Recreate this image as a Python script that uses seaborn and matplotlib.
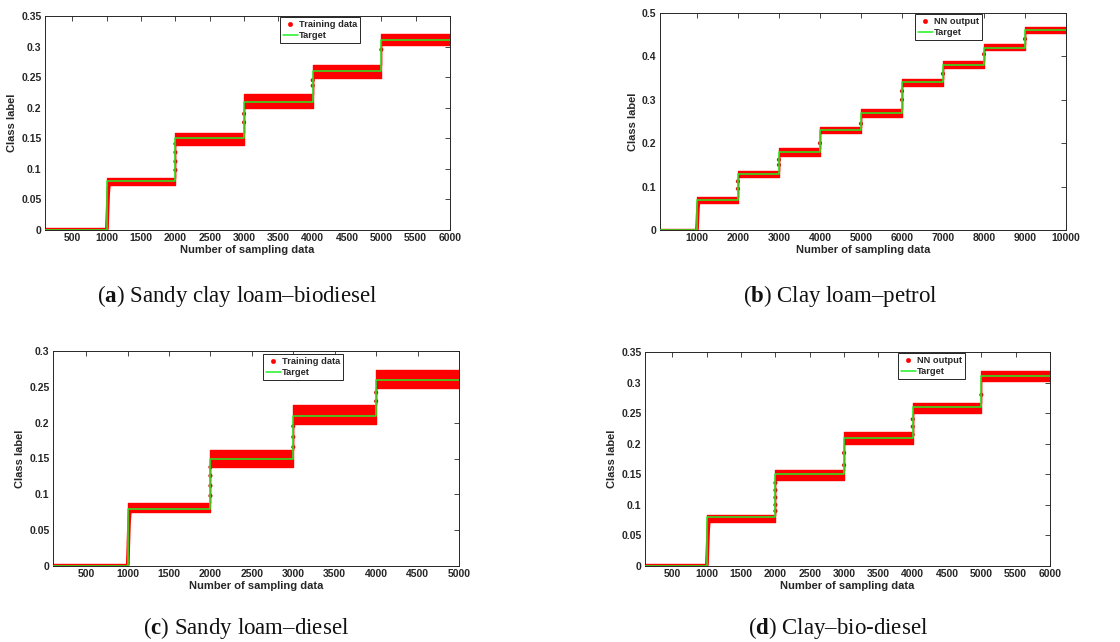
import matplotlib
matplotlib.use("Agg")
import numpy as np
import pandas as pd
import matplotlib.pyplot as plt
import seaborn as sns

sns.set_theme(style="white")
plt.rcParams['font.family'] = ['Liberation Sans', 'DejaVu Sans']
plt.rcParams['mathtext.fontset'] = 'custom'
plt.rcParams['mathtext.rm'] = 'Liberation Serif'
plt.rcParams['mathtext.bf'] = 'Liberation Serif:bold'

# ---------------- data ----------------
# (a) Sandy clay loam - biodiesel
a_edges = [100, 1000, 2000, 3000, 4000, 5000, 6000]
a_target = [0.0, 0.08, 0.15, 0.21, 0.26, 0.31]
a_low = [0.0005, 0.073, 0.139, 0.199, 0.249, 0.302]
a_high = [0.003, 0.085, 0.159, 0.223, 0.270, 0.321]
a_rise_x = [1002, 1008, 1014, 1020, 1026, 1032]
a_rise_y = [0.002, 0.020, 0.040, 0.058, 0.068, 0.074]
a_ramp_x = [2000, 2000, 2000, 2000, 3000, 3000, 4000, 4000, 5000]
a_ramp_y = [0.098, 0.112, 0.127, 0.141, 0.176, 0.190, 0.236, 0.245, 0.295]

# (b) Clay loam - petrol
b_edges = [100, 1000, 2000, 3000, 4000, 5000, 6000, 7000, 8000, 9000, 10000]
b_target = [0.0, 0.07, 0.13, 0.18, 0.23, 0.27, 0.34, 0.38, 0.42, 0.46]
b_low = [0.0005, 0.063, 0.121, 0.170, 0.223, 0.261, 0.332, 0.374, 0.415, 0.455]
b_high = [0.003, 0.076, 0.137, 0.188, 0.238, 0.279, 0.349, 0.389, 0.428, 0.468]
b_rise_x = [1002, 1010, 1018, 1026, 1034, 1042]
b_rise_y = [0.002, 0.018, 0.036, 0.052, 0.060, 0.064]
b_ramp_x = [2000, 2000, 3000, 3000, 4000, 5000, 6000, 6000, 7000, 8000, 9000]
b_ramp_y = [0.095, 0.112, 0.150, 0.162, 0.200, 0.245, 0.300, 0.320, 0.360, 0.405, 0.440]

# (c) Sandy loam - diesel
c_edges = [100, 1000, 2000, 3000, 4000, 5000]
c_target = [0.0, 0.08, 0.15, 0.21, 0.26]
c_low = [0.0005, 0.075, 0.138, 0.198, 0.249]
c_high = [0.003, 0.088, 0.162, 0.225, 0.274]
c_rise_x = [1002, 1007, 1012, 1017, 1022, 1027]
c_rise_y = [0.002, 0.020, 0.040, 0.058, 0.068, 0.075]
c_ramp_x = [2000, 2000, 2000, 2000, 3000, 3000, 3000, 4000, 4000]
c_ramp_y = [0.098, 0.112, 0.126, 0.138, 0.166, 0.180, 0.195, 0.230, 0.242]

# (d) Clay - bio-diesel
d_edges = [100, 1000, 2000, 3000, 4000, 5000, 6000]
d_target = [0.0, 0.08, 0.15, 0.21, 0.26, 0.31]
d_low = [0.0005, 0.072, 0.140, 0.200, 0.250, 0.302]
d_high = [0.003, 0.084, 0.157, 0.219, 0.267, 0.319]
d_rise_x = [1002, 1008, 1014, 1020, 1026, 1032]
d_rise_y = [0.002, 0.020, 0.040, 0.058, 0.068, 0.073]
d_ramp_x = [2000, 2000, 2000, 2000, 2000, 3000, 3000, 4000, 4000, 4000, 5000]
d_ramp_y = [0.090, 0.100, 0.112, 0.124, 0.136, 0.165, 0.185, 0.215, 0.228, 0.240, 0.280]

panels = [
    dict(edges=a_edges, target=a_target, low=a_low, high=a_high, rx=a_ramp_x, ry=a_ramp_y,
         sx=a_rise_x, sy=a_rise_y,
         xlim=(100, 6000), xticks=np.arange(500, 6001, 500), ylim=(0, 0.35),
         yticks=[0, 0.05, 0.1, 0.15, 0.2, 0.25, 0.3, 0.35], label="Training data",
         cap_bold="a", caption="Sandy clay loam\u2013biodiesel"),
    dict(edges=b_edges, target=b_target, low=b_low, high=b_high, rx=b_ramp_x, ry=b_ramp_y,
         sx=b_rise_x, sy=b_rise_y,
         xlim=(100, 10000), xticks=np.arange(1000, 10001, 1000), ylim=(0, 0.5),
         yticks=[0, 0.1, 0.2, 0.3, 0.4, 0.5], label="NN output",
         cap_bold="b", caption="Clay loam\u2013petrol"),
    dict(edges=c_edges, target=c_target, low=c_low, high=c_high, rx=c_ramp_x, ry=c_ramp_y,
         sx=c_rise_x, sy=c_rise_y,
         xlim=(100, 5000), xticks=np.arange(500, 5001, 500), ylim=(0, 0.3),
         yticks=[0, 0.05, 0.1, 0.15, 0.2, 0.25, 0.3], label="Training data",
         cap_bold="c", caption="Sandy loam\u2013diesel"),
    dict(edges=d_edges, target=d_target, low=d_low, high=d_high, rx=d_ramp_x, ry=d_ramp_y,
         sx=d_rise_x, sy=d_rise_y,
         xlim=(100, 6000), xticks=np.arange(500, 6001, 500), ylim=(0, 0.35),
         yticks=[0, 0.05, 0.1, 0.15, 0.2, 0.25, 0.3, 0.35], label="NN output",
         cap_bold="d", caption="Clay\u2013bio-diesel"),
]

# ---------------- layout ----------------
W, H = 1120, 642
def px_rect(l, t, r, b):
    return [l / W, 1 - b / H, (r - l) / W, (b - t) / H]

axes_px = [(45, 16, 450, 230), (660, 13, 1066, 230), (53, 351, 459, 566), (645, 352, 1050, 566)]
legend_anchor = [(0.58, 0.995), (0.628, 0.995), (0.517, 0.987), (0.625, 0.995)]
caption_pos = [(237, 296), (840, 296), (246, 628), (838, 628)]

fig = plt.figure(figsize=(W / 100, H / 100), dpi=100)
fig.patch.set_facecolor("white")

RED = "#ff0000"
GREEN = "#22f022"
DARK = "#262626"

def fmt(v):
    return ("%.2f" % v).rstrip("0").rstrip(".")

for p, rect, anc, cpos in zip(panels, axes_px, legend_anchor, caption_pos):
    ax = fig.add_axes(px_rect(*rect))
    ax.set_facecolor("white")
    edges = p["edges"]
    # noisy output band per segment
    low_ext = list(p["low"]) + [p["low"][-1]]
    high_ext = list(p["high"]) + [p["high"][-1]]
    ax.fill_between(edges, low_ext, high_ext, step="post", color=RED, lw=1.0,
                    edgecolor=RED, zorder=2)
    # first rise (dense samples)
    rise = pd.DataFrame({"x": p["sx"], "y": p["sy"]})
    sns.lineplot(data=rise, x="x", y="y", ax=ax, color=RED, lw=2.6, estimator=None,
                 sort=False, zorder=2)
    # transition samples
    ramp = pd.DataFrame({"x": p["rx"], "y": p["ry"]})
    sns.scatterplot(data=ramp, x="x", y="y", ax=ax, color="#c81e0a", s=9,
                    edgecolor="none", label=p["label"], zorder=3)
    # target step line
    tdf = pd.DataFrame({"x": edges, "y": list(p["target"]) + [p["target"][-1]]})
    sns.lineplot(data=tdf, x="x", y="y", ax=ax, color=GREEN, lw=1.1,
                 drawstyle="steps-post", label="Target", zorder=4, estimator=None)

    ax.set_xlim(*p["xlim"])
    ax.set_ylim(*p["ylim"])
    ax.set_xticks(p["xticks"])
    ax.set_xticklabels([str(int(v)) for v in p["xticks"]])
    ax.set_yticks(p["yticks"])
    ax.set_yticklabels([fmt(v) for v in p["yticks"]])
    ax.tick_params(direction="in", length=3.5, width=0.6, top=True, right=True,
                   labelsize=7.5, colors=DARK, pad=2.5)
    for lab in ax.get_xticklabels() + ax.get_yticklabels():
        lab.set_fontweight("bold")
    for s in ax.spines.values():
        s.set_color(DARK)
        s.set_linewidth(0.7)
        s.set_visible(True)
    ax.set_xlabel("Number of sampling data", fontsize=8, fontweight="bold", color=DARK, labelpad=1)
    ax.set_ylabel("Class label", fontsize=8, fontweight="bold", color=DARK, labelpad=3)

    handles, labels = ax.get_legend_handles_labels()
    keep = [i for i, l in enumerate(labels) if l in (p["label"], "Target")]
    leg = ax.legend([handles[i] for i in keep], [labels[i] for i in keep],
                    loc="upper left", bbox_to_anchor=anc, fontsize=6.7, frameon=True,
                    fancybox=False, edgecolor=DARK, framealpha=1, borderpad=0.3,
                    handlelength=1.6, handletextpad=0.15, labelspacing=0.25,
                    borderaxespad=0, markerscale=1.1)
    leg.get_frame().set_linewidth(0.7)
    for t in leg.get_texts():
        t.set_fontweight("bold")
    leg.legend_handles[0].set_color(RED)

    fig.text(cpos[0] / W, 1 - cpos[1] / H,
             r"($\mathbf{%s}$) %s" % (p["cap_bold"], p["caption"]),
             ha="center", va="center", fontsize=16.5, family="Liberation Serif", color="#111111")

fig.savefig("out.png", dpi=100, facecolor="white")
